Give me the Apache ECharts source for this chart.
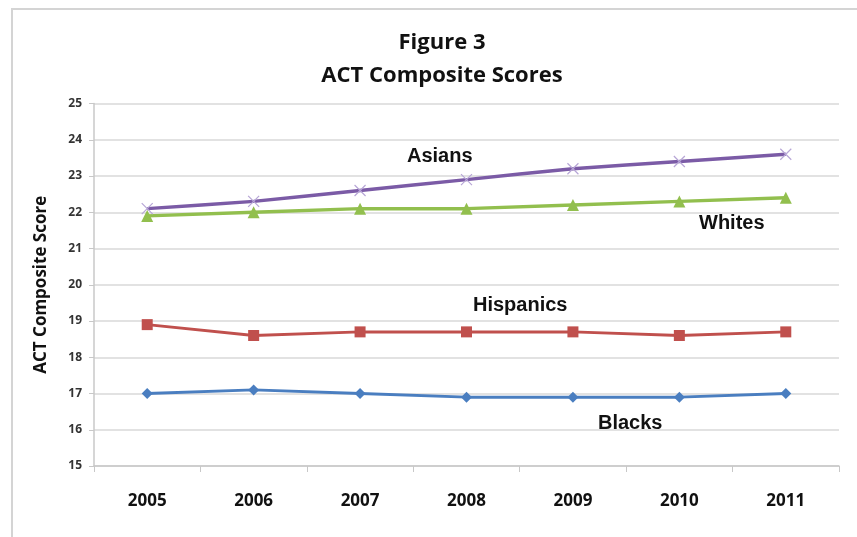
<!DOCTYPE html>
<html><head><meta charset="utf-8">
<script src="https://cdn.jsdelivr.net/npm/echarts@6/dist/echarts.min.js"></script>
<style>html,body{margin:0;padding:0;background:#fff}#c{width:857px;height:537px}</style>
</head><body><div id="c"></div>
<script>
const years = ['2005','2006','2007','2008','2009','2010','2011'];
const asians = [22.1, 22.3, 22.6, 22.9, 23.2, 23.4, 23.6];
const whites = [21.9, 22.0, 22.1, 22.1, 22.2, 22.3, 22.4];
const hispanics = [18.9, 18.6, 18.7, 18.7, 18.7, 18.6, 18.7];
const blacks = [17.0, 17.1, 17.0, 16.9, 16.9, 16.9, 17.0];
const yTicks = [15,16,17,18,19,20,21,22,23,24,25];

const chart = echarts.init(document.getElementById('c'));
const xPath = 'path://M0,0L10,10M10,0L0,10';
const labelFont = {fontFamily:'Liberation Sans, Arial, sans-serif', fontWeight:'bold', fontSize:20, fill:'#111'};
chart.setOption({
  animation:false,
  backgroundColor:'#fff',
  title:{
    text:'Figure 3\nACT Composite Scores',
    left:437, top:21, textAlign:'center',
    textStyle:{fontFamily:'Open Sans, sans-serif', fontWeight:'bold', fontSize:22, lineHeight:33, color:'#111'}
  },
  graphic:[
    {type:'rect', shape:{x:12,y:9,width:900,height:600}, style:{fill:'none', stroke:'#d4d4d4', lineWidth:2}, silent:true, z:-1},
    {type:'text', left:407, top:146, style:Object.assign({text:'Asians'}, labelFont)},
    {type:'text', left:699, top:213, style:Object.assign({text:'Whites'}, labelFont)},
    {type:'text', left:473, top:295, style:Object.assign({text:'Hispanics'}, labelFont)},
    {type:'text', left:598, top:413, style:Object.assign({text:'Blacks'}, labelFont)}
  ],
  grid:{left:94, right:18, top:103.5, bottom:71, containLabel:false},
  xAxis:{
    type:'category', data:years, boundaryGap:true,
    axisLine:{lineStyle:{color:'#c8c8c8', width:1.5}},
    axisTick:{show:true, length:6, lineStyle:{color:'#c8c8c8'}},
    axisLabel:{margin:27, color:'#111', fontFamily:'Open Sans, sans-serif', fontWeight:'bold', fontSize:17}
  },
  yAxis:{
    type:'value', min:yTicks[0], max:yTicks[yTicks.length-1], interval:1,
    name:'ACT Composite Score', nameLocation:'middle', nameGap:44, nameRotate:90,
    nameTextStyle:{color:'#111', fontFamily:'Open Sans, sans-serif', fontWeight:'bold', fontSize:17},
    axisLine:{show:true, lineStyle:{color:'#c8c8c8', width:1.5}},
    axisTick:{show:true, length:5, lineStyle:{color:'#c8c8c8'}},
    axisLabel:{margin:12, color:'#333', fontFamily:'Open Sans, sans-serif', fontWeight:'bold', fontSize:12},
    splitLine:{lineStyle:{color:'#d9d9d9', width:1.5}}
  },
  series:[
    {name:'Asians', type:'line', data:asians, smooth:0.15, symbol:xPath, symbolSize:11,
     lineStyle:{color:'#7B5BA6', width:3.5}, itemStyle:{color:'#fff', borderColor:'#b7a6d6', borderWidth:1.2}},
    {name:'Whites', type:'line', data:whites, symbol:'triangle', symbolSize:12,
     lineStyle:{color:'#92BF4E', width:3.5}, itemStyle:{color:'#92BF4E'}},
    {name:'Hispanics', type:'line', data:hispanics, symbol:'rect', symbolSize:11,
     lineStyle:{color:'#C0504D', width:3}, itemStyle:{color:'#C0504D'}},
    {name:'Blacks', type:'line', data:blacks, symbol:'diamond', symbolSize:11,
     lineStyle:{color:'#4A7EC0', width:3}, itemStyle:{color:'#4A7EC0'}}
  ]
});
</script></body></html>
